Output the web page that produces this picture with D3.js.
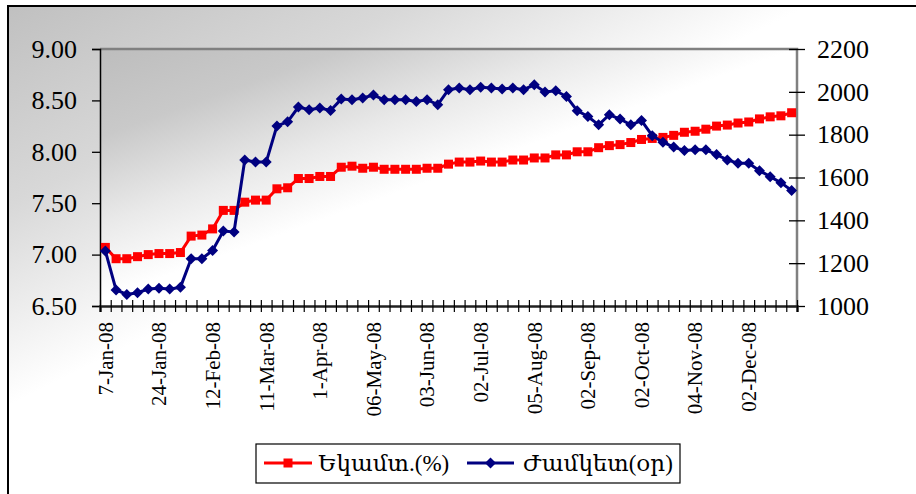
<!DOCTYPE html>
<html><head><meta charset="utf-8">
<script src="https://cdn.jsdelivr.net/npm/d3@7"></script>
<style>body{margin:0;background:#fff}svg{display:block}
svg text{font-family:"Liberation Serif","Times New Roman",Times,"DejaVu Serif",serif !important;}</style>
</head><body>
<svg id="chart" width="916" height="494"></svg>
<script>
// ---- data ----
const categories = d3.range(65); // 65 weekly auction dates (only every 5th is labelled)
const tickLabels = ["7-Jan-08","24-Jan-08","12-Feb-08","11-Mar-08","1-Apr-08","06-May-08","03-Jun-08","02-Jul-08","05-Aug-08","02-Sep-08","02-Oct-08","04-Nov-08","02-Dec-08"];
const yieldPct = [7.07,6.96,6.96,6.98,7.00,7.01,7.01,7.02,7.18,7.19,7.25,7.43,7.43,7.51,7.53,7.53,7.64,7.65,7.74,7.74,7.76,7.76,7.85,7.86,7.84,7.85,7.83,7.83,7.83,7.83,7.84,7.84,7.88,7.90,7.90,7.91,7.90,7.90,7.92,7.92,7.94,7.94,7.97,7.97,8.00,8.00,8.04,8.06,8.07,8.09,8.12,8.13,8.14,8.16,8.19,8.20,8.22,8.25,8.26,8.28,8.29,8.32,8.34,8.35,8.38];
const maturityDays = [1257,1075,1054,1062,1079,1083,1079,1087,1221,1221,1259,1350,1346,1682,1672,1672,1841,1860,1929,1916,1924,1913,1966,1963,1971,1985,1963,1963,1963,1955,1963,1940,2010,2018,2010,2021,2018,2013,2018,2010,2033,1999,2005,1978,1912,1885,1846,1893,1873,1846,1866,1795,1765,1742,1726,1729,1729,1707,1682,1667,1667,1632,1604,1576,1539];
const leftTicks = [6.5,7.0,7.5,8.0,8.5,9.0];
const rightTicks = [1000,1200,1400,1600,1800,2000,2200];
const seriesNames = ["Եկամտ.(%)","Ժամկետ(օր)"];
const seriesColors = ["#ff0000","#000080"];

// ---- layout ----
const svg = d3.select("#chart");
const P = {l:100, r:797, t:49, b:306};

const defs = svg.append("defs");
const g1 = defs.append("linearGradient").attr("id","bgChart").attr("gradientUnits","userSpaceOnUse")
  .attr("x1",8).attr("y1",6).attr("x2",168).attr("y2",326);
g1.append("stop").attr("offset",0).attr("stop-color","#c0c0c0");
g1.append("stop").attr("offset",0.5).attr("stop-color","#d8d8d8");
g1.append("stop").attr("offset",1).attr("stop-color","#ffffff");
const g2 = defs.append("linearGradient").attr("id","bgPlot").attr("gradientUnits","userSpaceOnUse")
  .attr("x1",100).attr("y1",49).attr("x2",180).attr("y2",271);
g2.append("stop").attr("offset",0).attr("stop-color","#bdbdbd");
g2.append("stop").attr("offset",0.35).attr("stop-color","#c9c9c9");
g2.append("stop").attr("offset",0.7).attr("stop-color","#e9e9e9");
g2.append("stop").attr("offset",1).attr("stop-color","#ffffff");

svg.append("rect").attr("x",8).attr("y",6).attr("width",916).attr("height",494).attr("fill","url(#bgChart)");
svg.append("path").attr("d","M8,494V6H916").attr("fill","none").attr("stroke","#000").attr("stroke-width",2);
svg.append("rect").attr("x",P.l).attr("y",P.t).attr("width",P.r-P.l).attr("height",P.b-P.t).attr("fill","url(#bgPlot)");

// ---- scales ----
const x = d3.scaleBand().domain(categories).range([P.l,P.r]);
const xEdge = d3.scaleLinear().domain([0,categories.length]).range([P.l,P.r]);
const cx = i => x(i) + x.bandwidth()/2;
const yL = d3.scaleLinear().domain([6.5,9]).range([P.b,P.t]);
const yR = d3.scaleLinear().domain([1000,2200]).range([P.b,P.t]);

// plot border (top/right gray)
svg.append("path").attr("d",`M${P.l},${P.t}H${P.r}V${P.b}`).attr("fill","none").attr("stroke","#808080").attr("stroke-width",2.5);

// left axis
const axL = svg.append("g").attr("transform",`translate(${P.l},0)`)
  .call(d3.axisLeft(yL).tickValues(leftTicks).tickFormat(d3.format(".2f")).tickSize(8).tickPadding(15));
axL.select(".domain").attr("stroke","#000").attr("stroke-width",1.5);
axL.selectAll(".tick line").attr("stroke","#000").attr("stroke-width",1.3);
axL.selectAll(".tick text").attr("font-size",26).attr("fill","#000");

// right axis
const axR = svg.append("g").attr("transform",`translate(${P.r},0)`)
  .call(d3.axisRight(yR).tickValues(rightTicks).tickFormat(d3.format("d")).tickSize(8).tickPadding(12));
axR.select(".domain").remove();
axR.selectAll(".tick line").attr("x1",-8).attr("x2",8).attr("stroke","#000").attr("stroke-width",1.3);
axR.selectAll(".tick text").attr("font-size",26).attr("fill","#000");

// bottom axis: cross ticks at category boundaries
const axB = svg.append("g").attr("transform",`translate(0,${P.b})`)
  .call(d3.axisBottom(xEdge).tickValues(d3.range(categories.length+1)).tickFormat("").tickSize(6));
axB.select(".domain").attr("stroke","#202020").attr("stroke-width",2.5);
axB.selectAll(".tick line").attr("y1",-6).attr("y2",6).attr("stroke","#000").attr("stroke-width",1.2);

// bottom labels every 5th category
const labelled = categories.filter(i => i % 5 === 0);
const axBL = svg.append("g").attr("transform",`translate(0,${P.b})`)
  .call(d3.axisBottom(x).tickValues(labelled).tickSize(0).tickFormat(i => tickLabels[i/5]));
axBL.select(".domain").remove();
axBL.selectAll(".tick text")
  .attr("font-size",21).attr("fill","#000")
  .attr("text-anchor","end").attr("x",0).attr("y",0).attr("dy","0.35em")
  .attr("transform","translate(0,16) rotate(-90)");

// ---- series ----
const lineL = d3.line().x((d,i)=>cx(i)).y(d=>yL(d));
const lineR = d3.line().x((d,i)=>cx(i)).y(d=>yR(d));

svg.append("path").datum(yieldPct).attr("d",lineL).attr("fill","none").attr("stroke",seriesColors[0]).attr("stroke-width",3);
svg.append("g").selectAll("rect").data(yieldPct).join("rect")
  .attr("x",(d,i)=>cx(i)-4.5).attr("y",d=>yL(d)-4.5).attr("width",9).attr("height",9).attr("fill",seriesColors[0]);

svg.append("path").datum(maturityDays).attr("d",lineR).attr("fill","none").attr("stroke",seriesColors[1]).attr("stroke-width",3);
const diamond = (px,py,r) => `M${px},${py-r}L${px+r},${py}L${px},${py+r}L${px-r},${py}Z`;
svg.append("g").selectAll("path").data(maturityDays).join("path")
  .attr("d",(d,i)=>diamond(cx(i),yR(d),5.5)).attr("fill",seriesColors[1]);

// ---- legend ----
const lg = svg.append("g");
lg.append("rect").attr("x",256).attr("y",444).attr("width",424).attr("height",39).attr("fill","#fff").attr("stroke","#000").attr("stroke-width",1.2);
const ly = 463;
const items = [{x0:264,x1:312,tx:318},{x0:467,x1:514,tx:523}];
items.forEach((it,k)=>{
  lg.append("line").attr("x1",it.x0).attr("x2",it.x1).attr("y1",ly).attr("y2",ly).attr("stroke",seriesColors[k]).attr("stroke-width",3);
  const mx=(it.x0+it.x1)/2;
  if(k===0) lg.append("rect").attr("x",mx-4.5).attr("y",ly-4.5).attr("width",9).attr("height",9).attr("fill",seriesColors[k]);
  else lg.append("path").attr("d",diamond(mx,ly,5.5)).attr("fill",seriesColors[k]);
  lg.append("text").attr("x",it.tx).attr("y",ly).attr("dy","0.35em").attr("font-size",23).attr("fill","#000").text(seriesNames[k]);
});
</script>
</body></html>
